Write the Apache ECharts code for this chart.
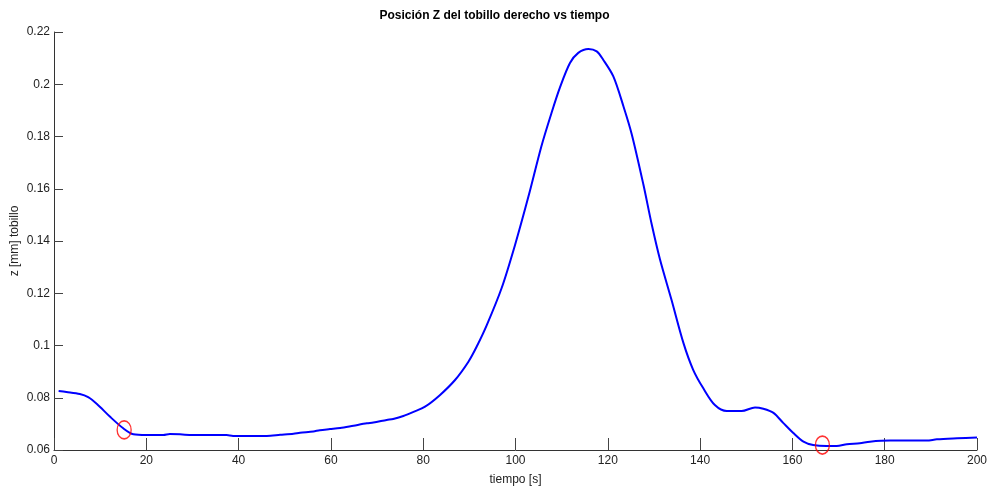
<!DOCTYPE html>
<html>
<head>
<meta charset="utf-8">
<script src="https://cdn.jsdelivr.net/npm/echarts@6/dist/echarts.min.js"></script>
<style>html,body{margin:0;padding:0;background:#fff}#c{width:989px;height:490px}</style>
</head>
<body>
<div id="c"></div>
<script>
const tiempo = [1,2.7,5.6,7.4,9.3,12.1,15,17.2,20,23.7,25.1,27.3,30,37.4,38.8,46.1,49,51.9,53.3,56.2,57.6,59.8,62,64.9,67.8,69.2,72.1,73.5,75.7,77.9,80.4,83.6,86.9,89.8,91.6,93.8,97,99.9,102.8,105.6,107.8,109.6,111.8,113.6,115.8,117.6,119,121.2,123.4,125.2,127.7,129.5,131.3,133.8,136.4,138.5,140.7,143.2,145.8,149,151.9,153.7,155.9,158,160.2,162.4,164.5,167.4,169.6,171.8,174.6,176.8,181.2,189.1,191.3,195.7,200];
const zTobillo = [0.0826,0.0822,0.0814,0.0802,0.0776,0.0728,0.0683,0.066,0.0657,0.0657,0.0661,0.066,0.0657,0.0657,0.0654,0.0654,0.0658,0.0662,0.0666,0.0671,0.0676,0.068,0.0684,0.0693,0.0702,0.0705,0.0715,0.0719,0.073,0.0746,0.0766,0.081,0.0868,0.0938,0.0996,0.1079,0.122,0.1385,0.157,0.1762,0.189,0.1986,0.2081,0.212,0.2135,0.2126,0.2094,0.203,0.1915,0.1808,0.1617,0.1465,0.1330,0.1175,0.1009,0.0907,0.0836,0.0772,0.0749,0.0749,0.0763,0.0758,0.0742,0.0704,0.0665,0.0632,0.0619,0.0615,0.0615,0.0622,0.0626,0.0632,0.0636,0.0636,0.0641,0.0645,0.0648];
const marcaT = [15.2, 166.5];
const marcaZ = [0.0677, 0.0619];
const xTicks = [0,20,40,60,80,100,120,140,160,180,200];
const yTicks = [0.06,0.08,0.1,0.12,0.14,0.16,0.18,0.2,0.22];

const font = 'Liberation Sans';
const chart = echarts.init(document.getElementById('c'), null, {renderer:'canvas'});
chart.setOption({
  animation:false,
  backgroundColor:'#fff',
  title:{text:'Posición Z del tobillo derecho vs tiempo', left:'center', top:5,
    textStyle:{fontFamily:font, fontSize:12, fontWeight:'bold', color:'#000'}},
  grid:{left:54, right:12, top:32, bottom:40, outerBoundsMode:'none', containLabel:false},
  xAxis:{type:'value', min:xTicks[0], max:xTicks[xTicks.length-1], interval:20,
    name:'tiempo [s]', nameLocation:'middle', nameGap:24, nameMoveOverlap:false,
    nameTextStyle:{fontFamily:font, fontSize:12, color:'#222'},
    axisLine:{show:true, lineStyle:{color:'#333', width:1}},
    axisTick:{show:true, inside:true, length:12, lineStyle:{color:'#444'}},
    axisLabel:{fontFamily:font, fontSize:12, color:'#222', margin:5},
    splitLine:{show:false}},
  yAxis:{type:'value', min:yTicks[0], max:yTicks[yTicks.length-1], interval:0.02,
    name:'z [mm] tobillo', nameLocation:'middle', nameGap:33, nameMoveOverlap:false,
    nameTextStyle:{fontFamily:font, fontSize:12, color:'#222'},
    axisLine:{show:true, lineStyle:{color:'#333', width:1}},
    axisTick:{show:true, inside:true, length:9, lineStyle:{color:'#444'}},
    axisLabel:{fontFamily:font, fontSize:12, color:'#222', margin:4,
      formatter:v=>String(+v.toFixed(2))},
    splitLine:{show:false}},
  series:[
    {type:'line', data:tiempo.map((t,i)=>[t,zTobillo[i]]), showSymbol:false, smooth:0.3,
     lineStyle:{color:'#0000ff', width:2}, z:2},
    {type:'scatter', data:marcaT.map((t,i)=>[t,marcaZ[i]]), symbol:'circle',
     symbolSize:[14,18], itemStyle:{color:'rgba(0,0,0,0)', borderColor:'#ff0000', borderWidth:1.5}, z:3}
  ]
});
</script>
</body>
</html>
